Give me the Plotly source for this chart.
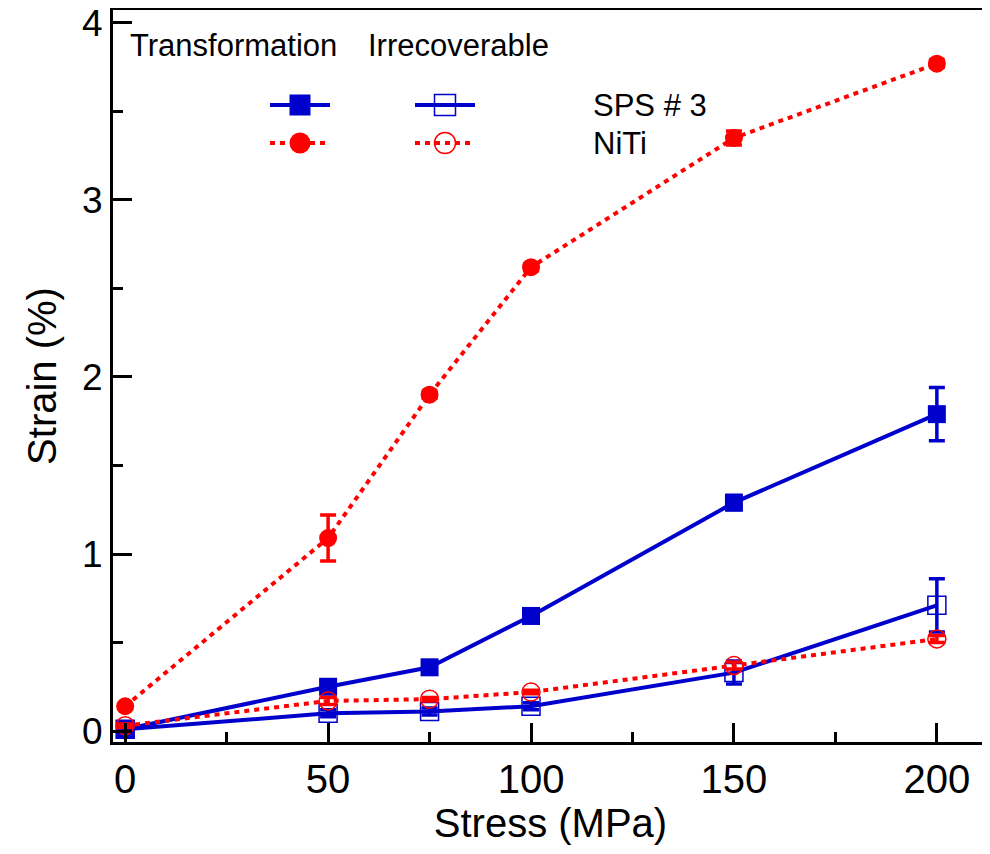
import plotly.graph_objects as go

stress = [0, 50, 75, 100, 150, 200]
sps_transf = [0.01, 0.25, 0.36, 0.65, 1.29, 1.79]
sps_transf_err = [0.01, 0.02, 0.02, 0.02, 0.04, 0.15]
sps_irrec = [0.01, 0.10, 0.11, 0.14, 0.33, 0.71]
sps_irrec_err = [0.01, 0.02, 0.02, 0.02, 0.065, 0.15]
niti_transf = [0.14, 1.09, 1.90, 2.62, 3.35, 3.77]
niti_transf_err = [0.01, 0.13, 0.02, 0.02, 0.04, 0.02]
niti_irrec = [0.03, 0.17, 0.18, 0.22, 0.37, 0.52]
niti_irrec_err = [0.01, 0.02, 0.01, 0.01, 0.02, 0.02]

BLUE = "#0000CC"
RED = "#FF0000"
DOT = "5px,5px"
FONT = "Liberation Sans, Arial, sans-serif"

fig = go.Figure()

def add(y, err, color, dash, symbol, lw_marker=0):
    fig.add_trace(go.Scatter(
        x=stress, y=y, mode="lines+markers",
        line=dict(color=color, width=4, dash=dash),
        marker=dict(symbol=symbol, size=18, color=color,
                    line=dict(color=color, width=lw_marker)),
        error_y=dict(type="data", array=err, color=color, thickness=3.5, width=8),
        showlegend=False, cliponaxis=False))

add(sps_transf, sps_transf_err, BLUE, "solid", "square")
add(sps_irrec, sps_irrec_err, BLUE, "solid", "square-open", 1.5)
add(niti_transf, niti_transf_err, RED, DOT, "circle")
add(niti_irrec, niti_irrec_err, RED, DOT, "circle-open", 1.5)

# Legend samples on a pixel-like overlay axis (screen pixel coordinates)
def sample(xc, yc, color, dash, symbol, lw_marker=0):
    fig.add_trace(go.Scatter(
        x=[xc - 30, xc + 30], y=[yc, yc], mode="lines",
        xaxis="x2", yaxis="y2",
        line=dict(color=color, width=4, dash=dash),
        showlegend=False, hoverinfo="skip"))
    fig.add_trace(go.Scatter(
        x=[xc], y=[yc], mode="markers",
        xaxis="x2", yaxis="y2",
        marker=dict(symbol=symbol, size=21, color=color,
                    line=dict(color=color, width=lw_marker)),
        showlegend=False, hoverinfo="skip"))

sample(300, 105, BLUE, "solid", "square")
sample(445, 105, BLUE, "solid", "square-open", 1.5)
sample(300, 143, RED, DOT, "circle")
sample(445, 143, RED, DOT, "circle-open", 1.5)

annos = [
    dict(text="Transformation", x=128, y=45),
    dict(text="Irrecoverable", x=366, y=45),
    dict(text="SPS # 3", x=591, y=105),
    dict(text="NiTi", x=591, y=143),
]
fig.update_layout(annotations=[
    dict(text=a["text"], x=a["x"], y=a["y"], xref="x2", yref="y2",
         xanchor="left", yanchor="middle", showarrow=False,
         font=dict(size=31, color="black", family=FONT)) for a in annos])

axis_common = dict(
    showline=True, linecolor="black", linewidth=3, mirror=True,
    ticks="inside", ticklen=19, tickwidth=3, tickcolor="black",
    showgrid=False, zeroline=False, automargin=False,
    ticklabeloverflow="allow",
)

fig.update_layout(
    width=982, height=846,
    margin=dict(l=105, r=2, t=2, b=112),
    paper_bgcolor="white", plot_bgcolor="white",
    xaxis=dict(**axis_common, range=[-3, 212.6], tickvals=[0, 50, 100, 150, 200],
               tickfont=dict(size=40, family=FONT, color="black"),
               minor=dict(ticks="inside", ticklen=10, tickwidth=3, tickcolor="black", dtick=25, tick0=0),
               title=dict(text="Stress (MPa)", font=dict(size=40, family=FONT, color="black"), standoff=6)),
    yaxis=dict(**axis_common, range=[-0.062, 4.073], tickvals=[0, 1, 2, 3, 4],
               tickfont=dict(size=37, family=FONT, color="black"),
               minor=dict(ticks="inside", ticklen=10, tickwidth=3, tickcolor="black", dtick=0.5, tick0=0),
               title=dict(text="Strain (%)", font=dict(size=40, family=FONT, color="black"), standoff=14)),
    xaxis2=dict(overlaying="x", range=[113, 988], visible=False, fixedrange=True),
    yaxis2=dict(overlaying="y", range=[742, 10], visible=False, fixedrange=True),
)

fig.write_html("out.html")
